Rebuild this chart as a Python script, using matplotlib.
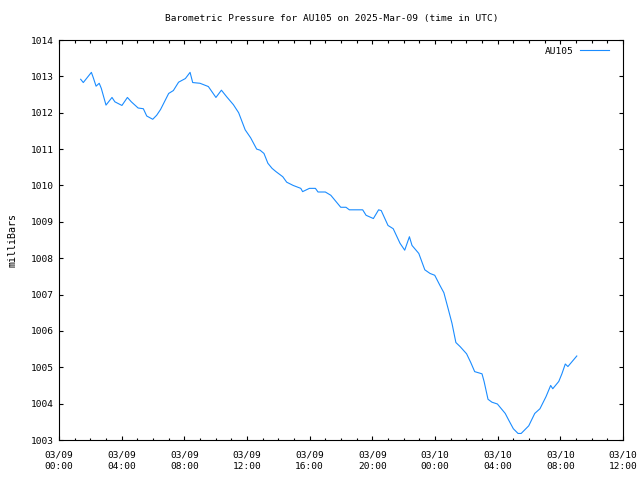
import matplotlib
matplotlib.use("Agg")
import matplotlib.pyplot as plt
import matplotlib.dates as mdates
import pandas as pd

title = "Barometric Pressure for AU105 on 2025-Mar-09 (time in UTC)"
series_name = "AU105"
y_label = "milliBars"

times = [
    "03-09 01:23", "03-09 01:33", "03-09 02:04", "03-09 02:11", "03-09 02:22", "03-09 02:34",
    "03-09 02:42", "03-09 03:00", "03-09 03:23", "03-09 03:34", "03-09 04:01", "03-09 04:22",
    "03-09 04:37", "03-09 05:03", "03-09 05:23", "03-09 05:36", "03-09 05:59", "03-09 06:14",
    "03-09 06:29", "03-09 07:00", "03-09 07:18", "03-09 07:38", "03-09 08:04", "03-09 08:22",
    "03-09 08:32", "03-09 09:00", "03-09 09:32", "03-09 10:01", "03-09 10:22", "03-09 10:42",
    "03-09 11:08", "03-09 11:28", "03-09 11:53", "03-09 12:14", "03-09 12:37", "03-09 12:50",
    "03-09 13:05", "03-09 13:20", "03-09 13:36", "03-09 13:51", "03-09 14:17", "03-09 14:32",
    "03-09 14:57", "03-09 15:26", "03-09 15:33", "03-09 15:59", "03-09 16:22", "03-09 16:32",
    "03-09 17:00", "03-09 17:21", "03-09 17:59", "03-09 18:19", "03-09 18:32", "03-09 19:23",
    "03-09 19:36", "03-09 20:04", "03-09 20:24", "03-09 20:34", "03-09 21:00", "03-09 21:20",
    "03-09 21:46", "03-09 22:04", "03-09 22:22", "03-09 22:32", "03-09 22:58", "03-09 23:21",
    "03-09 23:41", "03-09 23:59", "03-10 00:19", "03-10 00:34", "03-10 00:50", "03-10 01:05",
    "03-10 01:20", "03-10 01:36", "03-10 02:01", "03-10 02:17", "03-10 02:32", "03-10 03:00",
    "03-10 03:08", "03-10 03:23", "03-10 03:38", "03-10 03:59", "03-10 04:29", "03-10 04:42",
    "03-10 05:00", "03-10 05:18", "03-10 05:30", "03-10 05:59", "03-10 06:22", "03-10 06:42",
    "03-10 07:05", "03-10 07:23", "03-10 07:31", "03-10 07:54", "03-10 08:06", "03-10 08:19",
    "03-10 08:29", "03-10 09:03",
]
pressure = [
    1012.92, 1012.83, 1013.11, 1012.97, 1012.73, 1012.81,
    1012.67, 1012.21, 1012.42, 1012.30, 1012.20, 1012.42,
    1012.30, 1012.13, 1012.11, 1011.91, 1011.82, 1011.93,
    1012.09, 1012.53, 1012.61, 1012.84, 1012.94, 1013.11,
    1012.83, 1012.81, 1012.72, 1012.42, 1012.62, 1012.44,
    1012.22, 1012.00, 1011.53, 1011.31, 1011.00, 1010.97,
    1010.88, 1010.61, 1010.47, 1010.38, 1010.24, 1010.09,
    1010.00, 1009.92, 1009.83, 1009.92, 1009.92, 1009.82,
    1009.82, 1009.73, 1009.40, 1009.40, 1009.33, 1009.33,
    1009.18, 1009.09, 1009.33, 1009.31, 1008.90, 1008.81,
    1008.41, 1008.22, 1008.59, 1008.35, 1008.13, 1007.68,
    1007.58, 1007.53, 1007.25, 1007.05, 1006.62, 1006.21,
    1005.68, 1005.57, 1005.37, 1005.13, 1004.88, 1004.82,
    1004.61, 1004.12, 1004.04, 1003.99, 1003.73, 1003.55,
    1003.31, 1003.18, 1003.18, 1003.39, 1003.73, 1003.86,
    1004.19, 1004.50, 1004.41, 1004.61, 1004.82, 1005.09,
    1005.02, 1005.31,
]
x_start = "2025-03-09 00:00"
x_end = "2025-03-10 12:00"
y_min, y_max = 1003, 1014

t = pd.to_datetime(["2025-" + s for s in times])

plt.rcParams['font.family'] = ['DejaVu Sans Mono']
fs = 6.8

fig = plt.figure(figsize=(6.4, 4.8), dpi=100)
ax = fig.add_axes([59/640, 40/480, 564/640, 400/480])
ax.plot(t, pressure, color='#1a8cff', lw=0.8, label=series_name)

ax.set_xlim(pd.Timestamp(x_start), pd.Timestamp(x_end))
ax.set_ylim(y_min, y_max)
ax.xaxis.set_major_locator(mdates.HourLocator(byhour=[0, 4, 8, 12, 16, 20]))
ax.xaxis.set_minor_locator(mdates.HourLocator())
ax.xaxis.set_major_formatter(mdates.DateFormatter("%m/%d\n%H:%M"))
ax.set_yticks(range(y_min, y_max + 1))

for s in ax.spines.values():
    s.set_linewidth(0.8)
    s.set_color('black')
ax.tick_params(which='both', direction='in', top=True, right=True, labelsize=fs, width=0.8)
ax.tick_params(which='major', length=3.0)
ax.tick_params(which='minor', length=1.8)
ax.tick_params(axis='x', pad=7.2)
ax.tick_params(axis='y', pad=4)
for lbl in ax.get_xticklabels():
    lbl.set_linespacing(1.4)

fig.text(331.5/640, 1 - 19/480, title, fontsize=fs, ha='center', va='center')
ax.set_ylabel(y_label, fontsize=fs + 0.4, labelpad=9)

leg = ax.legend(loc='upper right', frameon=False, fontsize=fs, markerfirst=False,
                handlelength=3.1, borderaxespad=0.3, handletextpad=0.7,
                bbox_to_anchor=(1 - 7/564, 1.0))

fig.savefig("out.png", dpi=100)
